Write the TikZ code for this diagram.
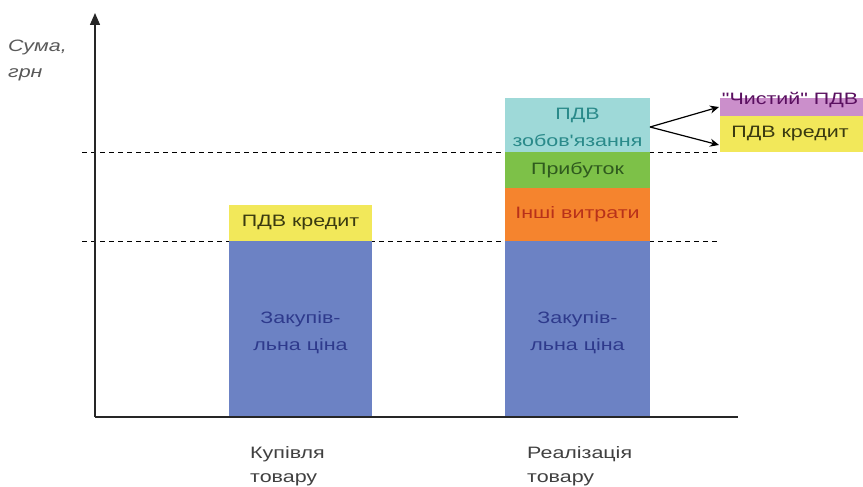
\documentclass[tikz,border=0pt]{standalone}
\usepackage{fontspec}
\setmainfont{Liberation Sans}[Ligatures=TeXOff, FakeStretch=1.3]
\usetikzlibrary{arrows.meta}
\definecolor{cBlue}{HTML}{6C82C4}
\definecolor{cBlueTxt}{HTML}{2E3A8C}
\definecolor{cYellow}{HTML}{F2E85A}
\definecolor{cYellowTxt}{HTML}{3A3A10}
\definecolor{cCyan}{HTML}{9ED9D8}
\definecolor{cCyanTxt}{HTML}{2A8A8A}
\definecolor{cGreen}{HTML}{7DC148}
\definecolor{cGreenTxt}{HTML}{2F5A1E}
\definecolor{cOrange}{HTML}{F5842E}
\definecolor{cOrangeTxt}{HTML}{B8311A}
\definecolor{cPurple}{HTML}{CB8FCB}
\definecolor{cPurpleTxt}{HTML}{5A1060}
\tikzset{
  lbl/.style={font=\fontsize{16.5}{27}\selectfont, align=center, inner sep=0pt},
  caption/.style={font=\fontsize{16.5}{24}\selectfont, text=black!75, align=left, anchor=north west, inner sep=0pt},
  axis/.style={line width=1.4pt, draw=black!85},
  guide/.style={line width=1pt, dashed, dash pattern=on 5pt off 4pt},
  conn/.style={line width=1.2pt, -{Stealth[length=9pt,width=8pt]}},
}
\begin{document}
\begin{tikzpicture}[x=1pt,y=-1pt]
\useasboundingbox (0,0) rectangle (863,487);

% guide lines
\draw[guide] (82,241) -- (720,241);
\draw[guide] (82,152) -- (720,152);

% bar: purchase
\fill[cBlue]   (229,241) rectangle (372,417);
\fill[cYellow] (229,205) rectangle (372,241);
\node[lbl, text=cBlueTxt]   (buyprice) at (300.5,333) {Закупів-\\льна ціна};
\node[lbl, text=cYellowTxt] (buyvat)   at (300.5,223) {ПДВ кредит};

% bar: sale
\fill[cBlue]   (505,241) rectangle (650,417);
\fill[cOrange] (505,188) rectangle (650,241);
\fill[cGreen]  (505,152) rectangle (650,188);
\fill[cCyan]   (505,98)  rectangle (650,152);
\node[lbl, text=cBlueTxt]   (sellprice) at (577.5,333) {Закупів-\\льна ціна};
\node[lbl, text=cOrangeTxt] (costs)     at (577.5,214) {Інші витрати};
\node[lbl, text=cGreenTxt]  (profit)    at (577.5,170) {Прибуток};
\node[lbl, text=cCyanTxt]   (liab)      at (577.5,127) {ПДВ\\зобов'язання};

% split of the liability
\fill[cPurple] (720,98)  rectangle (863,116);
\fill[cYellow] (720,116) rectangle (863,152);
\node[lbl, text=cPurpleTxt] (net)    at (790,100) {"Чистий" ПДВ};
\node[lbl, text=cYellowTxt] (credit) at (790,134) {ПДВ кредит};
\coordinate (split) at (650,127);
\coordinate (netin) at (719,107);
\coordinate (crin)  at (719,145);
\draw[conn] (split) -- (netin);
\draw[conn] (split) -- (crin);

% axes
\coordinate (origin) at (95,417);
\coordinate (ytop)   at (95,13);
\coordinate (xend)   at (738,417);
\draw[axis] (origin) -- (xend);
\draw[axis, -{Triangle[length=12pt,width=10pt]}] (origin) -- (ytop);

% axis captions
\node[caption, font=\fontsize{16.5}{26}\selectfont\itshape, text=black!65] (ylab) at (8,40) {Сума,\\грн};
\node[caption] (buy)  at (250,446) {Купівля\\товару};
\node[caption] (sell) at (527,446) {Реалізація\\товару};
\end{tikzpicture}
\end{document}
